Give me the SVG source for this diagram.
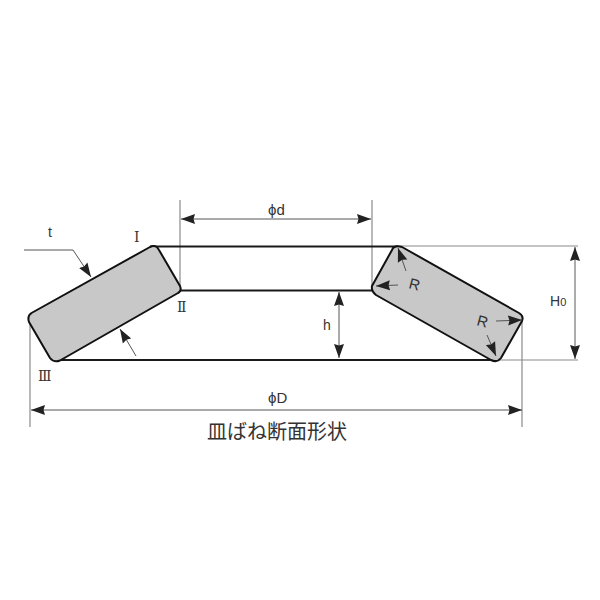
<svg xmlns="http://www.w3.org/2000/svg" width="600" height="600" viewBox="0 0 600 600">
<defs>
<marker id="ah" markerUnits="userSpaceOnUse" markerWidth="15" markerHeight="11" refX="14" refY="5.500" orient="auto-start-reverse"><path d="M0 0.500L14 5.500L0 10.500L1.500 5.500Z" fill="#222"/></marker>
</defs>
<style>
.sec{fill:#c8c8c8;stroke:#111;stroke-width:2;stroke-linejoin:round}
.edge{fill:none;stroke:#1a1a1a;stroke-width:2}
.thin{fill:none;stroke:#8a8a8a;stroke-width:1.2}
.dim{fill:none;stroke:#555;stroke-width:1;marker-end:url(#ah)}
.dimb{fill:none;stroke:#555;stroke-width:1;marker-start:url(#ah);marker-end:url(#ah)}
.gray{stroke:#888;stroke-width:1.4}
text{font-family:"Liberation Sans","Noto Sans CJK JP",sans-serif;fill:#333}
.ser{font-family:"DejaVu Serif","Liberation Serif",serif}
</style>
<g id="connectors">
<path class="thin" d="M180 200V290M372 200V288M30 322V427M522 320V427M395 246H578M491 360H578"/>
<path class="edge" d="M150 246.500H398M180 290.500H372M60 360H492"/>
<path class="dim" d="M24 250H73L91 277"/>
<path class="dim" d="M136 356L120 329"/>
<path class="dimb" d="M181 219H371"/>
<path class="dimb" d="M339 292V358"/>
<path class="dimb gray" d="M575 247V359"/>
<path class="dimb" d="M31 410H522"/>
</g>
<g id="section-left"><path class="sec" d="M31.500 313L150 247Q156 244 159 250L180 286Q182 291 178 293L60 360.500Q54 363 50 358L29 322Q27 316 31.500 313Z"/></g>
<g id="section-right"><path class="sec" d="M393 248Q396 245 402 247L519 313Q524 316 522 321L501 358Q497 363 491 360L376 295Q371 291 372 286L392 250Z"/></g>
<g id="r-arrows">
<path class="dim" d="M406 271L398 248"/>
<path class="dim" d="M398 285L376 286"/>
<path class="dim" d="M496 321L522 320"/>
<path class="dim" d="M487 335L496 356"/>
</g>
<g id="labels">
<text x="48" y="237" font-size="14">t</text>
<text class="ser" x="134" y="242" font-size="14">Ⅰ</text>
<text class="ser" x="177" y="312" font-size="14">Ⅱ</text>
<text class="ser" x="38" y="381" font-size="14">Ⅲ</text>
<text x="268" y="215" font-size="15">ϕd</text>
<text x="323" y="330" font-size="14">h</text>
<text x="550" y="306" font-size="14">H<tspan font-size="11">0</tspan></text>
<text x="0" y="0" font-size="15" transform="translate(408 288) rotate(15)">R</text>
<text x="0" y="0" font-size="15" transform="translate(476 325) rotate(15)">R</text>
<text x="268" y="403" font-size="15">ϕD</text>
<text x="207" y="439" font-size="20">皿ばね断面形状</text>
</g>
</svg>
